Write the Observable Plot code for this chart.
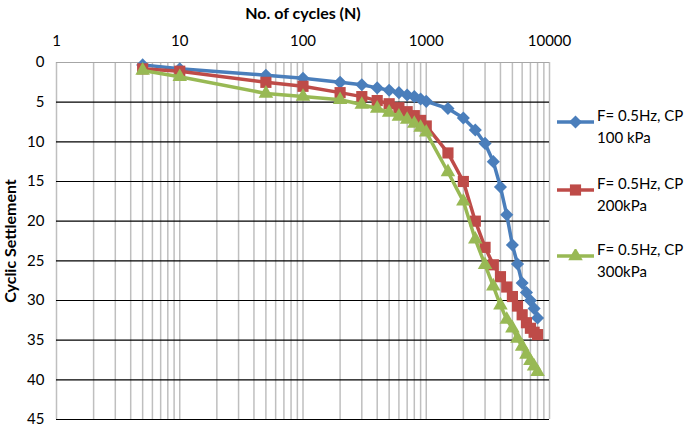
<!DOCTYPE html>
<html>
<head>
<meta charset="utf-8">
<script src="https://cdn.jsdelivr.net/npm/d3@7"></script>
<script src="https://cdn.jsdelivr.net/npm/@observablehq/plot@0.6"></script>
<style>
  body { margin: 0; background: #fff; }
  #wrap { position: relative; width: 685px; height: 427px; overflow: hidden; font-family: Lato, "Open Sans", sans-serif; }
  #legend { position: absolute; left: 556px; top: 0; font-size: 15px; color: #000; }
  .item { position: absolute; left: 0; width: 140px; line-height: 22px; }
  .item svg { position: absolute; left: 0; top: 3px; }
  .item span { position: absolute; left: 41px; top: -8px; white-space: nowrap; }
</style>
</head>
<body>
<div id="wrap"><div id="legend"></div></div>
<script>
// --- data ---
const cycles = [5, 10, 50, 100, 200, 300, 400, 500, 600, 700, 800, 900, 1000, 1500, 2000, 2500, 3000, 3500, 4000, 4500, 5000, 5500, 6000, 6500, 7000, 7500, 8000];
const cp100 = [0.3, 0.8, 1.6, 2.0, 2.5, 2.8, 3.2, 3.5, 3.8, 4.1, 4.3, 4.6, 4.9, 5.8, 7.0, 8.5, 10.2, 12.5, 15.7, 19.2, 23.0, 25.4, 27.8, 29.0, 30.0, 31.0, 32.2];
const cp200 = [0.8, 1.1, 2.5, 3.0, 3.8, 4.3, 4.8, 5.2, 5.7, 6.2, 6.7, 7.3, 8.0, 11.4, 15.0, 20.0, 23.3, 25.5, 27.0, 28.3, 29.5, 30.7, 31.8, 32.8, 33.5, 34.0, 34.3];
const cp300 = [1.0, 1.8, 3.9, 4.3, 4.7, 5.3, 5.8, 6.3, 6.8, 7.2, 7.7, 8.2, 8.8, 13.8, 17.5, 22.3, 25.5, 28.2, 30.6, 32.4, 33.5, 34.8, 35.8, 36.8, 37.6, 38.3, 39.0];
const seriesNames = ["F= 0.5Hz, CP 100 kPa", "F= 0.5Hz, CP 200kPa", "F= 0.5Hz, CP 300kPa"];
const legendLines = [["F= 0.5Hz, CP", "100 kPa"], ["F= 0.5Hz, CP", "200kPa"], ["F= 0.5Hz, CP", "300kPa"]];
const colors = ["#4A7EBB", "#BE4B48", "#98B954"];
const symbols = ["diamond2", "square", "triangle"];
const xTicks = [1, 10, 100, 1000, 10000];
const yTicks = [0, 5, 10, 15, 20, 25, 30, 35, 40, 45];
const xTitle = "No. of cycles (N)";
const yTitle = "Cyclic Settlement";

const seriesValues = [cp100, cp200, cp300];
const data = seriesValues.flatMap((vals, i) => vals.map((v, j) => ({ n: cycles[j], s: v, series: seriesNames[i] })));
const minorGrid = d3.range(0, 4).flatMap(e => d3.range(1, 10).map(k => k * Math.pow(10, e))).concat([10000]);
const sizes = [5.9, 6.3, 5.4];

const marks = [
  Plot.ruleX(minorGrid, { stroke: "#BFBFBF", strokeWidth: 1.5 }),
  Plot.ruleY([0], { stroke: "#A6A6A6", strokeWidth: 1.2 }),
  Plot.ruleY(yTicks.filter(d => d > 0), { stroke: "#000", strokeWidth: 1.1 }),
  Plot.axisX({ anchor: "top", ticks: xTicks, tickFormat: d3.format("d"), tickSize: 0, tickPadding: 17, label: null, fontSize: 15 }),
  Plot.axisY({ ticks: yTicks, tickSize: 0, tickPadding: 12, label: null, fontSize: 15 }),
  Plot.text([xTitle], { frameAnchor: "top", dy: -55, fontWeight: "bold", fontSize: 16 }),
  Plot.text([yTitle], { frameAnchor: "left", textAnchor: "middle", rotate: -90, dx: -46, fontWeight: "bold", fontSize: 16 })
];
seriesNames.forEach((name, i) => {
  const d = data.filter(r => r.series === name);
  marks.push(Plot.line(d, { x: "n", y: "s", stroke: colors[i], strokeWidth: 3.5 }));
  marks.push(Plot.dot(d, { x: "n", y: "s", fill: colors[i], stroke: "none", symbol: () => symbols[i], r: sizes[i] }));
});

const chart = Plot.plot({
  width: 685,
  height: 427,
  marginLeft: 56,
  marginRight: 136,
  marginTop: 62,
  marginBottom: 8,
  style: { fontFamily: "Lato, 'Open Sans', sans-serif", fontSize: "15px", color: "#000", background: "#fff" },
  x: { type: "log", domain: [1, 10000] },
  y: { domain: [0, 45], reverse: true },
  symbol: { type: "identity" },
  marks
});
const wrap = document.getElementById("wrap");
wrap.insertBefore(chart, wrap.firstChild);

// legend
const legend = document.getElementById("legend");
const tops = [112, 180, 246];
legendLines.forEach((lines, i) => {
  const item = document.createElement("div");
  item.className = "item";
  item.style.top = tops[i] + "px";
  const sym = d3.symbol(d3[{ diamond2: "symbolDiamond2", square: "symbolSquare", triangle: "symbolTriangle" }[symbols[i]]], Math.PI * sizes[i] * sizes[i])();
  item.innerHTML = `<svg width="40" height="16"><line x1="1" x2="38" y1="7" y2="7" stroke="${colors[i]}" stroke-width="3.5"/><path transform="translate(19.5,7)" d="${sym}" fill="${colors[i]}"/></svg><span>${lines[0]}<br>${lines[1]}</span>`;
  legend.appendChild(item);
});
</script>
</body>
</html>
